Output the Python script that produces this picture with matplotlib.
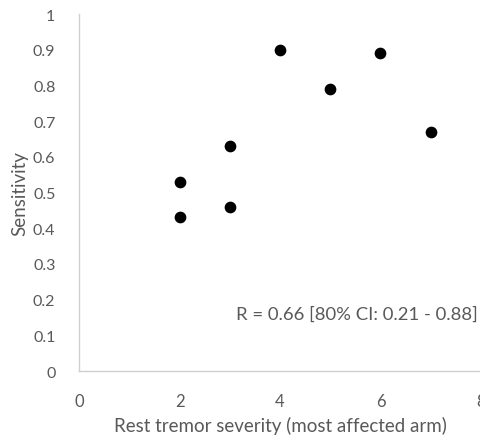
import numpy as np
import matplotlib.pyplot as plt

plt.rcParams['font.family'] = ['Lato', 'DejaVu Sans']

severity = [2, 2, 3, 3, 4, 5, 6, 7]
sensitivity = [0.53, 0.43, 0.63, 0.46, 0.90, 0.79, 0.89, 0.67]
xticks = [0, 2, 4, 6, 8]
yticks = [0, 0.1, 0.2, 0.3, 0.4, 0.5, 0.6, 0.7, 0.8, 0.9, 1]

grey = '#595959'

fig = plt.figure(figsize=(4.81, 4.39), dpi=100)
ax = fig.add_axes([79/481, 1-372/439, 1-79/481, (372-15)/439])

ax.scatter(severity, sensitivity, s=55, color='black', zorder=3, clip_on=False)

ax.set_xlim(0, 8)
ax.set_ylim(0, 1)
ax.set_xticks(xticks)
ax.set_yticks(yticks)
ax.set_yticklabels([f'{v:g}' for v in yticks])
ax.tick_params(length=0, labelsize=12, colors=grey)
ax.tick_params(axis='x', pad=16)
ax.tick_params(axis='y', pad=17, labelsize=11.5)

for s in ['top', 'right']:
    ax.spines[s].set_visible(False)
for s in ['left', 'bottom']:
    ax.spines[s].set_color('#d0d0d0')
    ax.spines[s].set_linewidth(1)

ax.set_xlabel('Rest tremor severity (most affected arm)', fontsize=13.5, color=grey, labelpad=5)
ax.set_ylabel('Sensitivity', fontsize=13.5, color=grey)
ax.yaxis.set_label_coords(-0.148, 0.5)
ax.yaxis.label.set_va('center')

ax.text(7.93, 0.16, 'R = 0.66 [80% CI: 0.21 - 0.88]', ha='right', va='center',
        fontsize=13.3, color=grey)

fig.savefig('out.png', dpi=100)
